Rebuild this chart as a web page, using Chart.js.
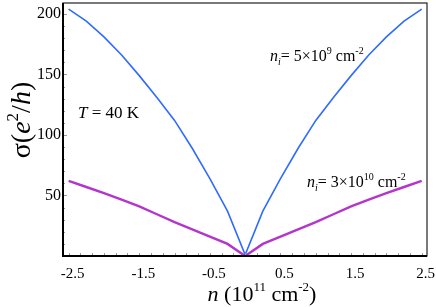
<!DOCTYPE html>
<html>
<head>
<meta charset="utf-8">
<script src="https://cdn.jsdelivr.net/npm/chart.js@4"></script>
<style>
  html, body { margin: 0; padding: 0; background: #fff; }
  #c { display: block; }
</style>
</head>
<body>
<canvas id="c" width="436" height="307"></canvas>
<script>
// carrier density n (10^11 cm^-2)
const densities = [-2.5, -2.25, -2, -1.75, -1.5, -1.25, -1, -0.75, -0.5, -0.25, 0,
                   0.25, 0.5, 0.75, 1, 1.25, 1.5, 1.75, 2, 2.25, 2.5];
// conductivity sigma (e^2/h), n_i = 5x10^9 cm^-2
const sigmaLowImp = [204, 194, 181, 166, 149, 131, 112, 89, 64, 37, 1,
                     37, 64, 89, 112, 131, 149, 166, 181, 194, 204];
// conductivity sigma (e^2/h), n_i = 3x10^10 cm^-2
const sigmaHighImp = [62, 57, 52, 46.5, 41, 34.5, 28, 22, 16, 10, 0,
                      10, 16, 22, 28, 34.5, 41, 46.5, 52, 57, 62];
const xTickValues = [-2.5, -1.5, -0.5, 0.5, 1.5, 2.5];
const yTickValues = [50, 100, 150, 200];

const SERIF = "'Liberation Serif', 'Times New Roman', serif";

// draws a row of text pieces (for italics, sub/superscripts)
function drawRich(ctx, x, y, parts, align) {
  let total = 0;
  parts.forEach(p => { ctx.font = p.font; total += ctx.measureText(p.t).width; });
  let cx = align === "center" ? x - total / 2 : x;
  parts.forEach(p => {
    ctx.font = p.font;
    ctx.fillText(p.t, cx, y + (p.dy || 0));
    cx += ctx.measureText(p.t).width;
  });
}

const f = (size, italic) => (italic ? "italic " : "") + size + "px " + SERIF;

const decorations = {
  id: "decorations",
  afterDatasetsDraw(chart) {
    const { ctx, chartArea: a, scales } = chart;
    const x = scales.x, y = scales.y;
    ctx.save();
    // minor and major tick marks, drawn inside the frame
    ctx.strokeStyle = "#999";
    ctx.lineWidth = 1;
    for (let v = -2.5; v <= 2.501; v += 1 / 6) {
      const px = Math.round(x.getPixelForValue(v)) + 0.5;
      ctx.beginPath(); ctx.moveTo(px, a.bottom); ctx.lineTo(px, a.bottom - 3); ctx.stroke();
    }
    for (let v = 10; v <= 200; v += 10) {
      const py = Math.round(y.getPixelForValue(v)) + 0.5;
      const len = v % 50 === 0 ? 4 : 2;
      ctx.beginPath(); ctx.moveTo(a.left, py); ctx.lineTo(a.left + len, py); ctx.stroke();
    }
    // frame
    ctx.strokeStyle = "#222";
    ctx.lineWidth = 1.2;
    ctx.strokeRect(a.left, a.top, a.right - a.left, a.bottom - a.top);
    ctx.strokeStyle = "#000";
    ctx.lineWidth = 2;
    ctx.beginPath();
    ctx.moveTo(a.left, a.top); ctx.lineTo(a.left, a.bottom); ctx.lineTo(a.right, a.bottom);
    ctx.stroke();

    ctx.fillStyle = "#000";
    ctx.textBaseline = "alphabetic";
    // annotations
    drawRich(ctx, 78, 118, [
      { t: "T", font: f(17, true) },
      { t: " = 40 K", font: f(17) }
    ], "left");
    drawRich(ctx, 270, 61, [
      { t: "n", font: f(16, true) },
      { t: "i", font: f(10, true), dy: 4 },
      { t: "= 5×10", font: f(16) },
      { t: "9", font: f(10), dy: -7 },
      { t: " cm", font: f(16) },
      { t: "-2", font: f(10), dy: -7 }
    ], "left");
    drawRich(ctx, 307, 187, [
      { t: "n", font: f(16, true) },
      { t: "i", font: f(10, true), dy: 4 },
      { t: "= 3×10", font: f(16) },
      { t: "10", font: f(10), dy: -7 },
      { t: " cm", font: f(16) },
      { t: "-2", font: f(10), dy: -7 }
    ], "left");
    // x axis title
    drawRich(ctx, 262, 301, [
      { t: "n", font: f(22, true) },
      { t: " (10", font: f(22) },
      { t: "11", font: f(13), dy: -10 },
      { t: " cm", font: f(22) },
      { t: "-2", font: f(13), dy: -10 },
      { t: ")", font: f(22) }
    ], "center");
    // y axis title
    ctx.translate(30, 120);
    ctx.rotate(-Math.PI / 2);
    drawRich(ctx, 0, 0, [
      { t: "σ(", font: f(28) },
      { t: "e", font: f(28, true) },
      { t: "2", font: f(17), dy: -12 },
      { t: "/", font: f(28) },
      { t: "h", font: f(28, true) },
      { t: ")", font: f(28) }
    ], "center");
    ctx.restore();
  }
};

new Chart(document.getElementById("c"), {
  type: "line",
  data: {
    datasets: [
      {
        label: "n_i = 5x10^9",
        data: densities.map((n, i) => ({ x: n, y: sigmaLowImp[i] })),
        borderColor: "#2f6bff",
        borderWidth: 1.6,
        pointRadius: 0,
        tension: 0
      },
      {
        label: "n_i = 3x10^10",
        data: densities.map((n, i) => ({ x: n, y: sigmaHighImp[i] })),
        borderColor: "#b435cc",
        borderWidth: 2.4,
        pointRadius: 0,
        tension: 0
      }
    ]
  },
  options: {
    responsive: false,
    animation: false,
    devicePixelRatio: 1,
    layout: { padding: { top: 3, right: 9, left: 0, bottom: 0 } },
    plugins: { legend: { display: false }, tooltip: { enabled: false } },
    scales: {
      x: {
        type: "linear",
        min: -2.58,
        max: 2.575,
        afterBuildTicks: s => { s.ticks = xTickValues.map(v => ({ value: v })); },
        afterFit: s => { s.height = 51; s.paddingLeft = 0; s.paddingRight = 0; },
        grid: { display: false, drawTicks: false },
        border: { display: false },
        ticks: {
          autoSkip: false,
          maxRotation: 0,
          padding: 9,
          labelOffset: 4,
          color: "#000",
          font: { family: SERIF, size: 15 },
          callback: v => v.toFixed(1)
        }
      },
      y: {
        type: "linear",
        min: 0,
        max: 209,
        afterBuildTicks: s => { s.ticks = yTickValues.map(v => ({ value: v })); },
        afterFit: s => { s.width = 63; s.paddingTop = 0; s.paddingBottom = 0; },
        grid: { display: false, drawTicks: false },
        border: { display: false },
        ticks: {
          padding: 2,
          color: "#000",
          font: { family: SERIF, size: 16 }
        }
      }
    }
  },
  plugins: [decorations]
});
</script>
</body>
</html>
